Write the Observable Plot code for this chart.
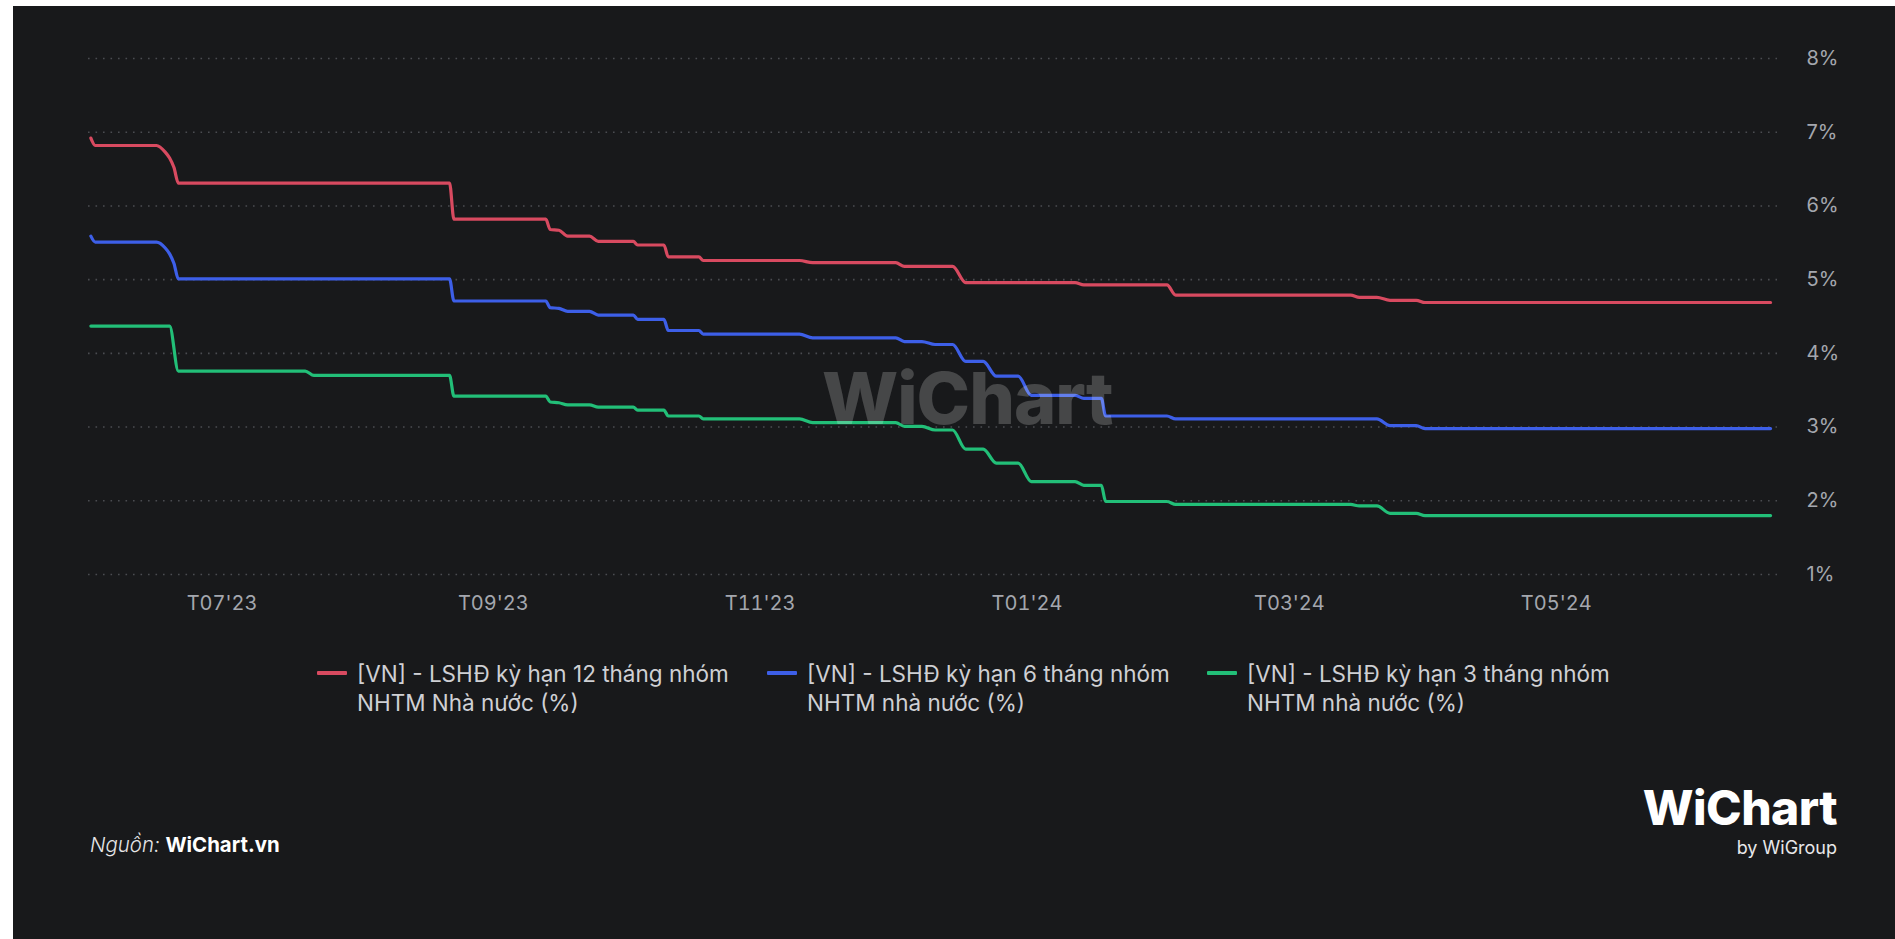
<!DOCTYPE html>
<html lang="vi">
<head>
<meta charset="utf-8">
<script src="https://cdn.jsdelivr.net/npm/d3@7"></script>
<script src="https://cdn.jsdelivr.net/npm/@observablehq/plot@0.6"></script>
<style>
  html, body { margin: 0; padding: 0; background: #ffffff; width: 1895px; height: 939px; overflow: hidden; }
  body { position: relative; font-family: Inter, "Noto Sans", sans-serif; }
  .panel { position: absolute; left: 13px; top: 6px; right: 0; bottom: 0; background: #18191b; }
  #chart { position: absolute; left: 0; top: 0; }
  .legend { position: absolute; top: 659px; left: 0; width: 1895px; height: 60px; }
  .item { position: absolute; top: 0; }
  .swatch { position: absolute; left: 0; top: 12px; width: 30px; height: 4px; border-radius: 1px; }
  .label { position: absolute; left: 40px; top: 0; white-space: nowrap; font-size: 22.5px; line-height: 29px; color: #cfd0d4; }
  .watermark { position: absolute; left: 822px; top: 354px; font-size: 72px; font-weight: 800; color: rgba(255,255,255,0.20); letter-spacing: -1px; pointer-events: none; }
  .source { position: absolute; left: 90px; top: 832px; font-size: 20.4px; color: #e6e6e8; }
  .source i { font-weight: 300; }
  .source b { font-weight: 700; color: #ffffff; }
  .logo { position: absolute; right: 58px; top: 779px; text-align: right; color: #ffffff; }
  .logo .name { font-size: 48px; font-weight: 800; letter-spacing: -0.6px; line-height: 58px; }
  .logo .by { font-size: 18px; font-weight: 400; line-height: 22px; color: #e8e8ea; margin-top: 0px; }
</style>
</head>
<body>
<div class="panel"></div>
<div id="chart"></div>
<div class="watermark">WiChart</div>
<div class="legend" id="legend"></div>
<div class="source"><i>Nguồn:</i> <b>WiChart.vn</b></div>
<div class="logo"><div class="name">WiChart</div><div class="by">by WiGroup</div></div>
<script>
// Deposit rates of state-owned commercial banks (%), change points of each series
const seriesNames = [
  "[VN] - LSHĐ kỳ hạn 12 tháng nhóm NHTM Nhà nước (%)",
  "[VN] - LSHĐ kỳ hạn 6 tháng nhóm NHTM nhà nước (%)",
  "[VN] - LSHĐ kỳ hạn 3 tháng nhóm NHTM nhà nước (%)"
];
const legendLines = [
  ["[VN] - LSHĐ kỳ hạn 12 tháng nhóm", "NHTM Nhà nước (%)"],
  ["[VN] - LSHĐ kỳ hạn 6 tháng nhóm", "NHTM nhà nước (%)"],
  ["[VN] - LSHĐ kỳ hạn 3 tháng nhóm", "NHTM nhà nước (%)"]
];
const seriesColors = ["#d84a60", "#3d5fe8", "#22bf78"];

const rate12m = [
  ["2023-06-01", 6.92], ["2023-06-02", 6.82], ["2023-06-16", 6.82], ["2023-06-18", 6.73],
  ["2023-06-19", 6.65], ["2023-06-20", 6.52], ["2023-06-21", 6.31],
  ["2023-08-22", 6.31], ["2023-08-23", 5.82],
  ["2023-09-13", 5.82], ["2023-09-14", 5.68], ["2023-09-16", 5.67], ["2023-09-18", 5.59],
  ["2023-09-23", 5.59], ["2023-09-25", 5.52],
  ["2023-10-03", 5.52], ["2023-10-04", 5.47],
  ["2023-10-10", 5.47], ["2023-10-11", 5.31],
  ["2023-10-18", 5.31], ["2023-10-19", 5.26],
  ["2023-11-10", 5.26], ["2023-11-13", 5.23],
  ["2023-12-02", 5.23], ["2023-12-04", 5.18],
  ["2023-12-15", 5.18], ["2023-12-18", 4.96],
  ["2024-01-12", 4.96], ["2024-01-14", 4.93],
  ["2024-02-02", 4.93], ["2024-02-04", 4.79],
  ["2024-03-15", 4.79], ["2024-03-17", 4.76],
  ["2024-03-21", 4.76], ["2024-03-24", 4.72],
  ["2024-03-30", 4.72], ["2024-04-01", 4.69],
  ["2024-06-19", 4.69]
];
const rate6m = [
  ["2023-06-01", 5.59], ["2023-06-02", 5.51], ["2023-06-16", 5.51], ["2023-06-18", 5.43],
  ["2023-06-19", 5.35], ["2023-06-20", 5.22], ["2023-06-21", 5.01],
  ["2023-08-22", 5.01], ["2023-08-23", 4.71],
  ["2023-09-13", 4.71], ["2023-09-14", 4.62], ["2023-09-16", 4.61], ["2023-09-18", 4.57],
  ["2023-09-23", 4.57], ["2023-09-25", 4.52],
  ["2023-10-03", 4.52], ["2023-10-04", 4.46],
  ["2023-10-10", 4.46], ["2023-10-11", 4.31],
  ["2023-10-18", 4.31], ["2023-10-19", 4.26],
  ["2023-11-10", 4.26], ["2023-11-13", 4.21],
  ["2023-12-02", 4.21], ["2023-12-04", 4.16],
  ["2023-12-08", 4.16], ["2023-12-11", 4.12],
  ["2023-12-15", 4.12], ["2023-12-18", 3.89],
  ["2023-12-22", 3.89], ["2023-12-25", 3.69],
  ["2023-12-30", 3.69], ["2024-01-02", 3.43],
  ["2024-01-12", 3.43], ["2024-01-14", 3.39],
  ["2024-01-18", 3.39], ["2024-01-19", 3.15],
  ["2024-02-02", 3.15], ["2024-02-04", 3.11],
  ["2024-03-21", 3.11], ["2024-03-24", 3.02],
  ["2024-03-30", 3.02], ["2024-04-01", 2.98],
  ["2024-06-19", 2.98]
];
const rate3m = [
  ["2023-06-01", 4.37], ["2023-06-19", 4.37], ["2023-06-21", 3.76],
  ["2023-07-20", 3.76], ["2023-07-22", 3.70],
  ["2023-08-22", 3.70], ["2023-08-23", 3.42],
  ["2023-09-13", 3.42], ["2023-09-14", 3.34], ["2023-09-16", 3.33], ["2023-09-18", 3.30],
  ["2023-09-23", 3.30], ["2023-09-25", 3.27],
  ["2023-10-03", 3.27], ["2023-10-04", 3.23],
  ["2023-10-10", 3.23], ["2023-10-11", 3.15],
  ["2023-10-18", 3.15], ["2023-10-19", 3.11],
  ["2023-11-10", 3.11], ["2023-11-13", 3.06],
  ["2023-12-02", 3.06], ["2023-12-04", 3.01],
  ["2023-12-08", 3.01], ["2023-12-11", 2.96],
  ["2023-12-15", 2.96], ["2023-12-18", 2.70],
  ["2023-12-22", 2.70], ["2023-12-25", 2.51],
  ["2023-12-30", 2.51], ["2024-01-02", 2.26],
  ["2024-01-12", 2.26], ["2024-01-14", 2.21],
  ["2024-01-18", 2.21], ["2024-01-19", 1.99],
  ["2024-02-02", 1.99], ["2024-02-04", 1.95],
  ["2024-03-15", 1.95], ["2024-03-17", 1.93],
  ["2024-03-21", 1.93], ["2024-03-24", 1.83],
  ["2024-03-30", 1.83], ["2024-04-01", 1.80],
  ["2024-06-19", 1.80]
];

const xTickDates = ["2023-07-01", "2023-09-01", "2023-11-01", "2024-01-01", "2024-03-01", "2024-05-01"];
const xTickLabels = ["T07'23", "T09'23", "T11'23", "T01'24", "T03'24", "T05'24"];
const yTicks = [1, 2, 3, 4, 5, 6, 7, 8];

const allSeries = [rate12m, rate6m, rate3m];
const rows = allSeries.flatMap((s, k) =>
  s.map(([d, v]) => ({series: seriesNames[k], date: new Date(d), value: v}))
);
const tickDates = xTickDates.map(d => new Date(d));
const fmtX = d => xTickLabels[tickDates.findIndex(t => +t === +d)];

const chart = Plot.plot({
  width: 1895,
  height: 640,
  marginLeft: 88,
  marginRight: 118,
  marginTop: 58,
  marginBottom: 66,
  style: {background: "transparent", fontFamily: "Inter, 'Noto Sans', sans-serif", fontSize: "20px", color: "#a4a7ae"},
  x: {type: "utc", domain: [new Date("2023-05-31T11:00Z"), new Date("2024-06-20T14:00Z")]},
  y: {domain: [1, 8], axis: null},
  color: {domain: seriesNames, range: seriesColors},
  marks: [
    Plot.gridY(yTicks, {stroke: "#4a4c51", strokeOpacity: 1, strokeWidth: 1.6, strokeDasharray: "1.6,5.9"}),
    // percentage labels to the right of the frame, left-aligned
    Plot.text(yTicks, {y: d => d, frameAnchor: "right", dx: 29, textAnchor: "start", text: d => d + "%", fill: "#a4a7ae", fontSize: 20}),
    Plot.axisX(tickDates, {anchor: "bottom", tickSize: 0, tickPadding: 21, tickFormat: fmtX, fill: "#a4a7ae", label: null}),
    Plot.line(rows, {x: "date", y: "value", z: "series", stroke: "series", strokeWidth: 3.2, curve: "monotone-x", strokeLinejoin: "round", strokeLinecap: "round"})
  ]
});
document.getElementById("chart").append(chart);

// Legend below the plot
const legend = document.getElementById("legend");
const legendX = [317, 767, 1207];
seriesNames.forEach((name, k) => {
  const item = document.createElement("div");
  item.className = "item";
  item.style.left = legendX[k] + "px";
  const sw = document.createElement("div");
  sw.className = "swatch";
  sw.style.background = seriesColors[k];
  const lab = document.createElement("div");
  lab.className = "label";
  lab.innerHTML = legendLines[k].join("<br>");
  item.append(sw, lab);
  legend.append(item);
});
</script>
</body>
</html>
